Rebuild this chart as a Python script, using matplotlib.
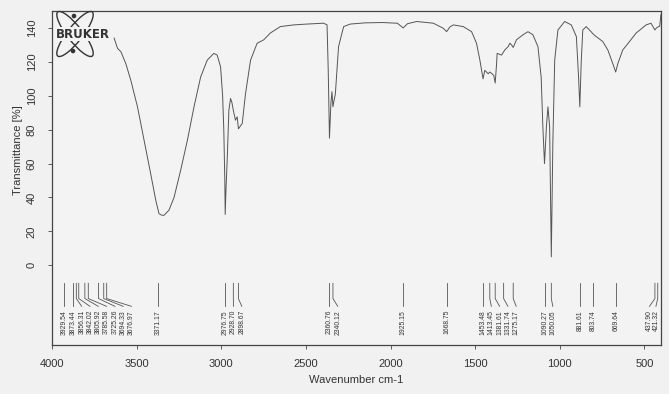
import matplotlib
matplotlib.use("Agg")
import matplotlib.pyplot as plt
from matplotlib.patches import Ellipse, Circle
from matplotlib.transforms import IdentityTransform

# ---- spectrum ----
wavenumber = [3633, 3613, 3593, 3564, 3534, 3495, 3456, 3417, 3387, 3368, 3350, 3338,
              3309, 3279, 3240, 3200, 3161, 3122, 3083, 3044, 3024, 3004, 2992, 2985,
              2979, 2976.75, 2972, 2965, 2955, 2945, 2937, 2929, 2916, 2906, 2898.67,
              2876, 2857, 2827, 2788, 2749, 2710, 2651, 2572, 2493, 2395, 2375, 2368,
              2360.76, 2352, 2346, 2340.12, 2334, 2326, 2307, 2277, 2238, 2150, 2050,
              1960, 1925, 1900, 1845, 1747, 1688, 1668.75, 1650, 1629, 1570, 1521,
              1492, 1472, 1453.48, 1443, 1423, 1413.45, 1400, 1390, 1381.61, 1374,
              1370, 1344, 1331.74, 1325, 1305, 1295, 1285, 1275.17, 1256, 1217, 1188,
              1159, 1129, 1110, 1100, 1090.27, 1079, 1070, 1060, 1050.05, 1041, 1030,
              1011, 971, 932, 902, 889, 881.61, 873, 864, 844, 815, 803.74, 785, 746,
              716, 687, 669.64, 657, 628, 588, 549, 490, 461, 437.9, 431, 421.32, 410,
              402]
transmittance = [134, 128, 126, 119, 109, 93.5, 73.8, 54, 38.4, 30.5, 29.5, 29.5,
                 32.5, 40, 56, 73.8, 93.5, 111, 121, 125, 124, 117, 100, 80,
                 50, 30, 45, 62, 91.5, 98.4, 96, 91.5, 85.6, 87.6, 80.5,
                 83.7, 101, 121, 131, 133, 137, 140.8, 141.8, 142.3, 142.8, 141.8, 115,
                 75, 96, 102.4, 93.5, 97, 101, 129, 140.8, 142.3, 143, 143.2,
                 142.8, 140, 142.5, 143.8, 142.8, 139.8, 137.8, 140.5, 141.8, 140.8, 137.8,
                 131, 121, 110, 115, 113, 114, 113, 112, 107.5, 118,
                 125, 124, 126, 127, 129, 131, 130, 128.5, 133, 136, 137.8,
                 136, 129, 111, 81.7, 60, 81.7, 93.5, 81.7, 5, 72, 121,
                 138.8, 143.8, 141.8, 134.9, 111, 93.5, 121, 138.8, 140.8, 137.8, 136.5, 134.9, 132,
                 127, 119, 114, 119, 127, 132, 137, 141.8, 142.8, 138.8, 139.8, 140.5, 141,
                 148]

# ---- peak picks ----
peak_labels = [3929.54, 3873.44, 3856.31, 3842.02, 3805.92, 3785.58, 3725.26, 3694.33,
               3676.97, 3371.17, 2976.75, 2928.70, 2898.67, 2360.76, 2340.12, 1925.15,
               1668.75, 1453.48, 1413.45, 1381.61, 1331.74, 1275.17, 1090.27, 1050.05,
               881.61, 803.74, 669.64, 437.90, 421.32]

x_ticks = [4000, 3500, 3000, 2500, 2000, 1500, 1000, 500]
y_ticks = [0, 20, 40, 60, 80, 100, 120, 140]

plt.rcParams['font.family'] = ['Liberation Sans', 'DejaVu Sans']

fig = plt.figure(figsize=(6.69, 3.94), dpi=100, facecolor='#f1f1f1')
ax = fig.add_axes([52/669, 1-345/394, (661-52)/669, (345-11)/394])
ax.set_facecolor('#f3f3f3')

ax.plot(wavenumber, transmittance, color='#555555', lw=0.7)

ax.set_xlim(4000, 402)
ax.set_ylim(-47, 150)
ax.set_xticks(x_ticks)
ax.set_yticks(y_ticks)
ax.tick_params(axis='x', direction='out', length=3, pad=7, labelsize=8,
               colors='#444444', labelcolor='#333333', width=0.6)
ax.tick_params(axis='y', direction='out', length=3, pad=8, labelsize=8,
               colors='#444444', labelcolor='#333333', width=0.6)
for lab in ax.get_yticklabels():
    lab.set_rotation(90)
    lab.set_va('center')
for sp in ax.spines.values():
    sp.set_color('#444444')
    sp.set_linewidth(0.9)

fig.text(356/669, 1-380/394, 'Wavenumber cm-1', ha='center', va='center',
         fontsize=8, color='#333333')
fig.text(18/669, 1-150/394, 'Transmittance [%]', ha='center', va='center',
         rotation=90, fontsize=8, color='#333333')

# ---- peak label spreading ----
gap = 49.0
pos = []
for i, p in enumerate(peak_labels):
    if i == 0:
        pos.append(p)
    else:
        pos.append(min(p, pos[-1] - gap))
right_lim = 432.0
gap_right = 38.0
for i in range(len(pos) - 1, -1, -1):
    if i == len(pos) - 1:
        pos[i] = max(pos[i], right_lim)
    elif pos[i] < pos[i + 1] + gap_right:
        pos[i] = pos[i + 1] + gap_right

y_top, y_kink, y_end, y_text = -10.6, -19.6, -24.2, -26.4
for p, lx in zip(peak_labels, pos):
    ax.plot([p, p, lx], [y_top, y_kink, y_end], color='#555555', lw=0.6)
    ax.text(lx, y_text, f'{p:.2f}', rotation=90, ha='center', va='top',
            fontsize=4.9, color='#333333')

# ---- logo ----
tr = IdentityTransform()
for ang in (52, -52):
    e = Ellipse((75, 394-34), 56, 15, angle=ang, fill=False, edgecolor='#333333',
                lw=1.0, transform=tr)
    fig.patches.append(e)
for (cx, cy) in [(74, 394-16), (73, 394-51)]:
    fig.patches.append(Circle((cx, cy), 1.6, color='#333333', transform=tr))
fig.text(83/669, 1-34/394, 'BRUKER', ha='center', va='center', fontsize=8.5,
         fontweight='bold', family='DejaVu Sans', color='#333333',
         bbox=dict(facecolor='#f3f3f3', edgecolor='none', pad=0.3))

fig.savefig('out.png', dpi=100, facecolor=fig.get_facecolor())
